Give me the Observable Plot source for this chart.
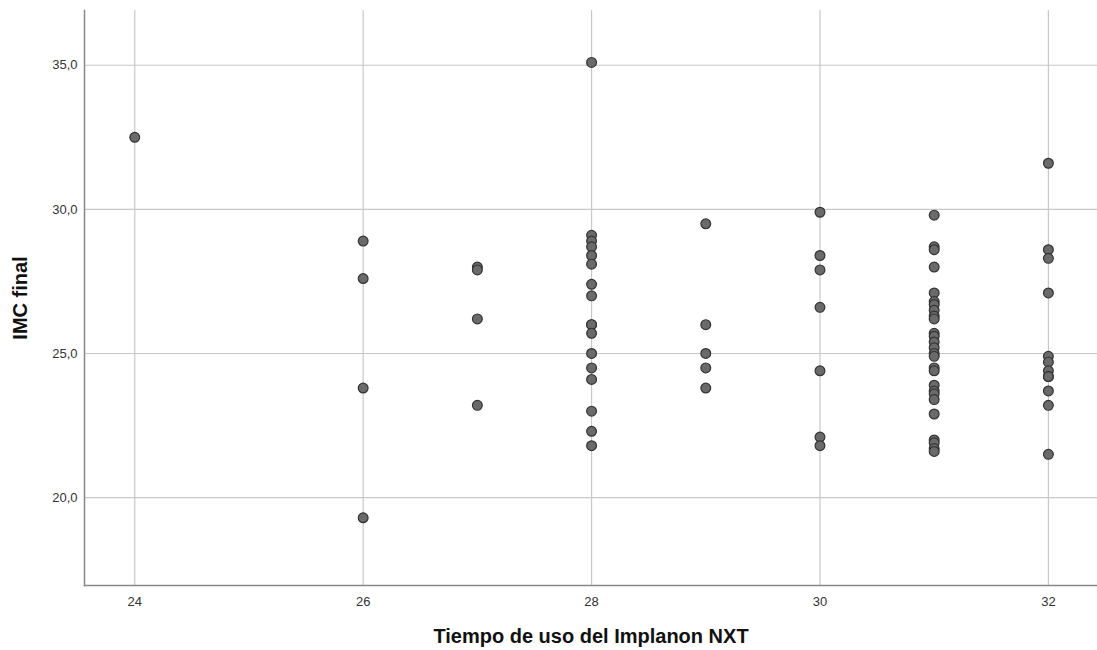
<!DOCTYPE html>
<html>
<head>
<meta charset="utf-8">
<script src="https://cdn.jsdelivr.net/npm/d3@7"></script>
<script src="https://cdn.jsdelivr.net/npm/@observablehq/plot@0.6"></script>
<style>
  html, body { margin: 0; padding: 0; background: #fff; }
  #chart svg { display: block; }
</style>
</head>
<body>
<div id="chart"></div>
<script>
// Tiempo de uso (months) and IMC final values
const imc24 = [32.5];
const imc26 = [28.9, 27.6, 23.8, 19.3];
const imc27 = [28.0, 27.9, 26.2, 23.2];
const imc28 = [35.1, 29.1, 28.9, 28.7, 28.4, 28.1, 27.4, 27.0, 26.0, 26.0, 25.7, 25.0, 24.5, 24.1, 23.0, 22.3, 21.8];
const imc29 = [29.5, 26.0, 25.0, 24.5, 23.8];
const imc30 = [29.9, 28.4, 27.9, 26.6, 24.4, 22.1, 21.8];
const imc31 = [29.8, 28.7, 28.6, 28.0, 27.1, 26.8, 26.7, 26.5, 26.3, 26.2, 25.7, 25.6, 25.4, 25.2, 25.0, 24.9, 24.5, 24.4, 23.9, 23.7, 23.6, 23.4, 22.9, 22.0, 21.9, 21.7, 21.6];
const imc32 = [31.6, 28.6, 28.3, 27.1, 24.9, 24.7, 24.4, 24.2, 24.2, 23.7, 23.2, 21.5];

const tiempos = [24, 26, 27, 28, 29, 30, 31, 32];
const groups = [imc24, imc26, imc27, imc28, imc29, imc30, imc31, imc32];

const xTicks = [24, 26, 28, 30, 32];
const yTicks = [20, 25, 30, 35];

const xTitle = "Tiempo de uso del Implanon NXT";
const yTitle = "IMC final";

const data = [];
tiempos.forEach((t, i) => groups[i].forEach(v => data.push({tiempo: t, imc: v})));

const chart = Plot.plot({
  width: 1097,
  height: 650,
  marginLeft: 84,
  marginRight: 0,
  marginTop: 10,
  marginBottom: 65,
  style: {fontFamily: "'Liberation Sans', Arial, sans-serif", fontSize: "13px", color: "#222", background: "#fff"},
  x: {domain: [23.56, 32.43]},
  y: {domain: [16.95, 36.9]},
  marks: [
    Plot.gridX(xTicks, {stroke: "#c8c8c8", strokeOpacity: 1, strokeWidth: 1.2}),
    Plot.gridY(yTicks, {stroke: "#c8c8c8", strokeOpacity: 1, strokeWidth: 1.2}),
    Plot.axisX({ticks: xTicks, tickSize: 0, tickPadding: 11, label: null, fontSize: 13, fill: "#333"}),
    Plot.axisY({ticks: yTicks, tickSize: 0, tickPadding: 7, label: null, fontSize: 13, fill: "#333",
      tickFormat: d => d.toFixed(1).replace(".", ",")}),
    Plot.frame({anchor: "left", stroke: "#888", strokeWidth: 1.5}),
    Plot.frame({anchor: "bottom", stroke: "#888", strokeWidth: 1.5}),
    Plot.dot(data, {x: "tiempo", y: "imc", r: 4.9, fill: "#6a6a6a", stroke: "#333", strokeWidth: 1.2}),
    Plot.text([xTitle], {frameAnchor: "bottom", textAnchor: "middle", dy: 57, text: d => d, fontSize: 20, fontWeight: "bold", fill: "#111"}),
    Plot.text([yTitle], {frameAnchor: "left", textAnchor: "middle", dx: -64, rotate: -90, text: d => d, fontSize: 20, fontWeight: "bold", fill: "#111"})
  ]
});
document.getElementById("chart").appendChild(chart);
</script>
</body>
</html>
